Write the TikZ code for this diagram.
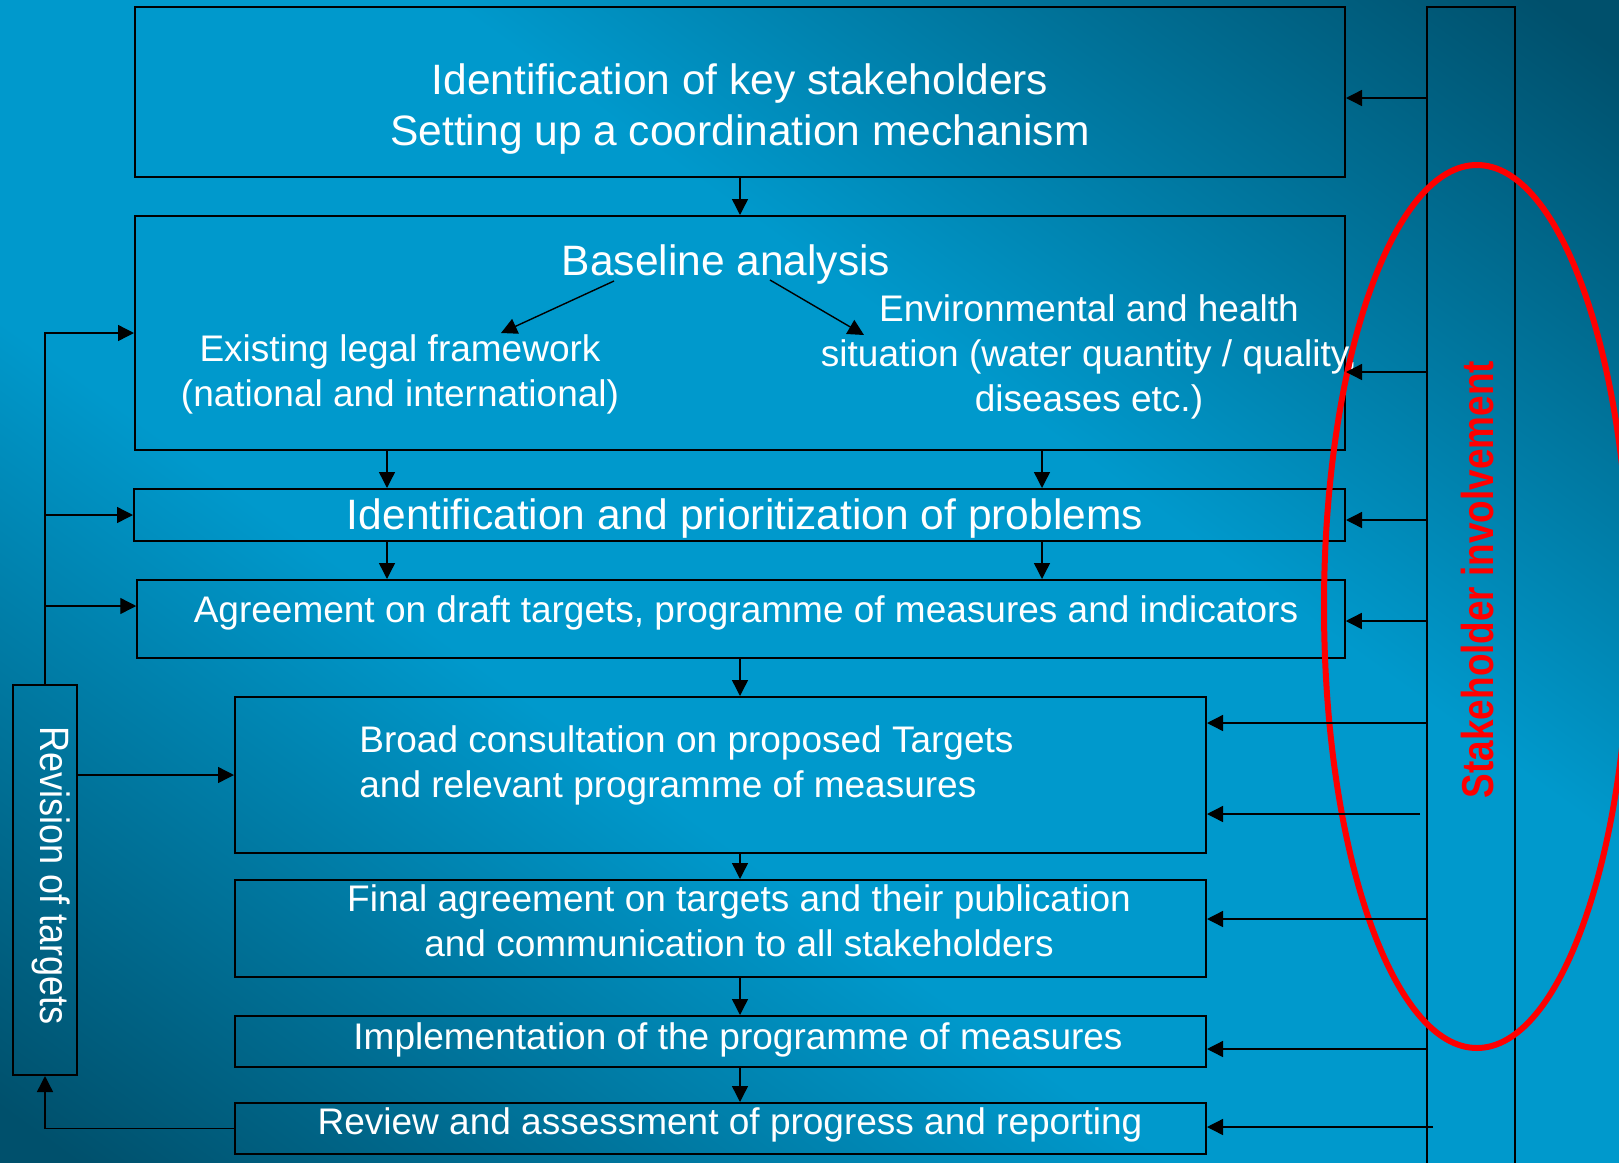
\documentclass[tikz,border=0pt]{standalone}
\usepackage{fontspec}
\setmainfont{Liberation Sans}
\usetikzlibrary{arrows.meta,shapes.geometric}
\definecolor{bgbright}{RGB}{0,153,204}
\definecolor{bgdark}{RGB}{0,80,108}
\pgfdeclareverticalshading{diagband}{100bp}{color(0bp)=(bgdark); color(27.5bp)=(bgdark); color(43.5bp)=(bgbright); color(56.5bp)=(bgbright); color(72.5bp)=(bgdark); color(100bp)=(bgdark)}
\begin{document}
\begin{tikzpicture}[x=0.5pt,y=-0.5pt,
  box/.style={draw=black, line width=1pt, rectangle, inner sep=0pt},
  arr/.style={-{Triangle[length=8pt,width=8pt]}, line width=0.7pt},
  big/.style={text=white, inner sep=0pt, font=\fontsize{21.25}{25.5}\selectfont},
  mid/.style={text=white, inner sep=0pt, font=\fontsize{18.5}{22.5}\selectfont},
]
\useasboundingbox (0,0) rectangle (1619,1163);
\begin{scope}[overlay, transform canvas={shift={(809.5,581.5)}, rotate=-35.7}]
  \shade[shading=diagband] (-1300,-1000) rectangle (1300,1000);
\end{scope}

% boxes
\node[box, minimum width=605pt, minimum height=85pt] (b1) at (740,92) {};
\node[box, minimum width=605pt, minimum height=117pt] (b2) at (740,333) {};
\node[box, minimum width=605.5pt, minimum height=26pt] (b3) at (739.5,515) {};
\node[box, minimum width=603.75pt, minimum height=39pt] (b4) at (741,619) {};
\node[box, minimum width=485.5pt, minimum height=78pt] (b5) at (720.5,775) {};
\node[box, minimum width=485.5pt, minimum height=48.5pt] (b6) at (720.5,928.5) {};
\node[box, minimum width=485.5pt, minimum height=25.5pt] (b7) at (720.5,1041.5) {};
\node[box, minimum width=485.5pt, minimum height=25.5pt] (b8) at (720.5,1128.5) {};
\node[box, minimum width=32pt, minimum height=195pt] (rev) at (45,880) {};
\node[draw=black, line width=0.6pt, rectangle, inner sep=0pt, minimum width=44pt, minimum height=584pt] (sh) at (1471,591) {};

% texts
\node[big, align=center, anchor=base] (t1) at (740,145) {Identification of key stakeholders\\Setting up a coordination mechanism};
\node[big, anchor=base] (t2) at (726,275) {Baseline analysis};
\node[mid, align=center, anchor=base] (t2a) at (400,406) {Existing legal framework\\(national and international)};
\node[mid, align=center, anchor=base] (t2b) at (1089,411) {Environmental and health\\situation (water quantity / quality,\\diseases etc.)};
\node[big, anchor=base] (t3) at (745,529) {Identification and prioritization of problems};
\node[mid, anchor=base] (t4) at (746,622) {Agreement on draft targets, programme of measures and indicators};
\node[mid, align=left, anchor=base west] (t5) at (359,797) {Broad consultation on proposed Targets\\and relevant programme of measures};
\node[mid, align=center, anchor=base] (t6) at (739,956) {Final agreement on targets and their publication\\and communication to all stakeholders};
\node[mid, anchor=base] (t7) at (738,1049) {Implementation of the programme of measures};
\node[mid, anchor=base] (t8) at (730,1134) {Review and assessment of progress and reporting};
\node[text=white, inner sep=0pt, font=\fontsize{20.5}{24}\selectfont, rotate=-90, xscale=0.88] (trev) at (51.5,875.5) {Revision of targets};
\node[text=red, inner sep=0pt, font=\fontsize{22.35}{26}\selectfont\bfseries, rotate=90, xscale=0.826] (tsh) at (1478,579.5) {Stakeholder involvement};

% ellipse
\node[draw=red, line width=3pt, ellipse, inner sep=0pt, minimum width=153pt, minimum height=441.5pt] (ell) at (1477,606.5) {};

% helper coordinates
\coordinate (xL) at (387,0);
\coordinate (xR) at (1042,0);
\coordinate (xM) at (740,0);
\coordinate (y4) at (0,606);
\coordinate (s1) at (0,98);
\coordinate (s2) at (0,372);
\coordinate (s3) at (0,520);
\coordinate (s4) at (0,621);
\coordinate (s5) at (0,723);
\coordinate (s6) at (0,919);
\coordinate (s7) at (0,1049);
\coordinate (s5b) at (1420,814);
\coordinate (s8b) at (1433,1127);
\coordinate (a1s) at (614,281);
\coordinate (a1e) at (501,333);
\coordinate (a2s) at (770,280);
\coordinate (a2e) at (864,335);

% vertical flow
\draw[arr] (b1.south -| xM) -- (b2.north -| xM);
\draw[arr] (b2.south -| xL) -- (b3.north -| xL);
\draw[arr] (b2.south -| xR) -- (b3.north -| xR);
\draw[arr] (b3.south -| xL) -- (b4.north -| xL);
\draw[arr] (b3.south -| xR) -- (b4.north -| xR);
\draw[arr] (b4.south -| xM) -- (b5.north -| xM);
\draw[arr] (b5.south -| xM) -- (b6.north -| xM);
\draw[arr] (b6.south -| xM) -- (b7.north -| xM);
\draw[arr] (b7.south -| xM) -- (b8.north -| xM);

% baseline sub arrows
\draw[arr] (a1s) -- (a1e);
\draw[arr] (a2s) -- (a2e);

% revision loop
\draw[arr] (rev.north) |- (b2.west);
\draw[arr] (rev.north |- b3.west) -- (b3.west);
\draw[arr] (rev.north |- y4) -- (b4.west |- y4);
\draw[arr] (rev.east |- b5.west) -- (b5.west);
\draw[arr] (b8.west) -| (rev.south);

% stakeholder arrows
\draw[arr] (sh.west |- s1) -- (b1.east |- s1);
\draw[arr] (sh.west |- s2) -- (b2.east |- s2);
\draw[arr] (sh.west |- s3) -- (b3.east |- s3);
\draw[arr] (sh.west |- s4) -- (b4.east |- s4);
\draw[arr] (sh.west |- s5) -- (b5.east |- s5);
\draw[arr] (s5b) -- (b5.east |- s5b);
\draw[arr] (sh.west |- s6) -- (b6.east |- s6);
\draw[arr] (sh.west |- s7) -- (b7.east |- s7);
\draw[arr] (s8b) -- (b8.east |- s8b);
\end{tikzpicture}
\end{document}
